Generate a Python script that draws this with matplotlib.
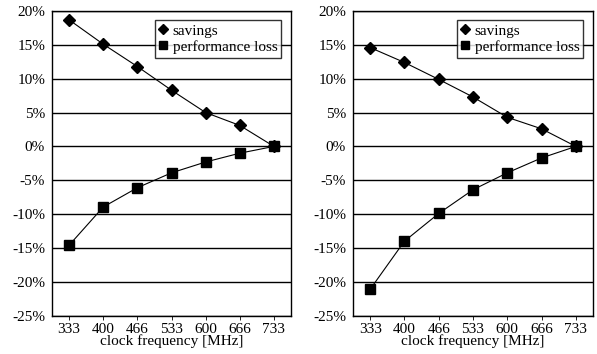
import numpy as np
import matplotlib.pyplot as plt
from matplotlib.ticker import MultipleLocator, FuncFormatter

plt.rcParams['font.family'] = ['Liberation Serif', 'DejaVu Serif']

# clock frequencies (MHz)
freqs = ['333', '400', '466', '533', '600', '666', '733']

# left panel
savings_a = [18.7, 15.1, 11.8, 8.3, 5.0, 3.1, 0.0]
loss_a = [-14.6, -8.95, -6.1, -3.9, -2.3, -1.0, 0.0]

# right panel
savings_b = [14.6, 12.4, 9.9, 7.3, 4.3, 2.6, 0.0]
loss_b = [-21.1, -14.0, -9.9, -6.4, -3.9, -1.7, 0.0]

W, H = 597, 354
fig = plt.figure(figsize=(W/100, H/100), dpi=100)

def panel(rect, sav, loss):
    ax = fig.add_axes(rect)
    x = np.arange(len(freqs))
    ax.plot(x, sav, color='black', lw=0.8, marker='D', ms=6, label='savings')
    ax.plot(x, loss, color='black', lw=0.8, marker='s', ms=7, label='performance loss')
    ax.set_xlim(-0.5, len(freqs) - 0.5)
    ax.set_ylim(-25, 20)
    ax.set_xticks(x)
    ax.set_xticklabels(freqs)
    ax.yaxis.set_major_locator(MultipleLocator(5))
    ax.yaxis.set_minor_locator(MultipleLocator(2.5))
    ax.yaxis.set_major_formatter(FuncFormatter(lambda v, p: f'{v:.0f}%'))
    ax.grid(axis='y', color='black', lw=1.0)
    ax.set_axisbelow(True)
    ax.tick_params(axis='y', which='both', length=0, labelsize=11, pad=5)
    ax.tick_params(axis='x', length=3, width=0.6, labelsize=11, pad=2)
    for s in ax.spines.values():
        s.set_linewidth(1.0)
    ax.set_xlabel('clock frequency [MHz]', fontsize=11, labelpad=-1)
    leg = ax.legend(loc='upper right', bbox_to_anchor=(0.96, 0.97), handlelength=0.5,
                    handletextpad=0.4, fontsize=11, frameon=True, fancybox=False,
                    borderpad=0.25, labelspacing=0.15, borderaxespad=0, markerscale=0.85)
    leg.get_frame().set_edgecolor('black')
    leg.get_frame().set_linewidth(1.0)
    for h in leg.legend_handles:
        h.set_linestyle('none')
    return ax

bottom = (H - 315.7) / H
height = (315.7 - 11) / H
panel([52/W, bottom, (291-52)/W, height], savings_a, loss_a)
panel([353/W, bottom, (593-353)/W, height], savings_b, loss_b)

fig.savefig('out.png', dpi=100)
